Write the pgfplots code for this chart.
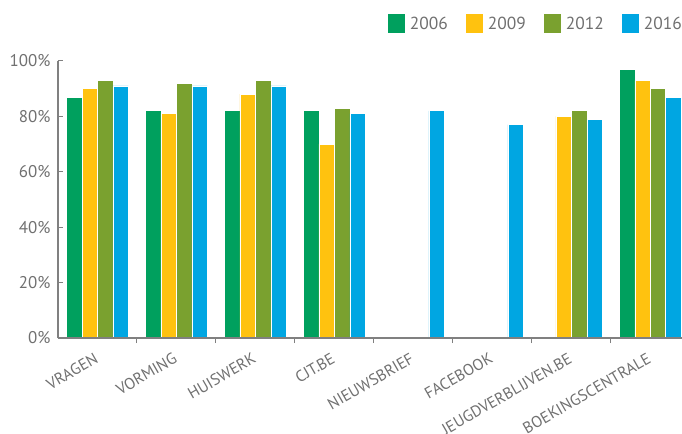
\documentclass[border=0pt]{standalone}
\usepackage{fontspec}
\setmainfont{PT Sans}
\usepackage{pgfplots}
\pgfplotsset{compat=1.18}
\definecolor{cA}{HTML}{00A05E}
\definecolor{cB}{HTML}{FFC20F}
\definecolor{cC}{HTML}{7AA12F}
\definecolor{cD}{HTML}{00A6E2}
\definecolor{txtgray}{HTML}{707070}
\definecolor{axisgray}{HTML}{808080}
\begin{document}
\begin{tikzpicture}
\path[use as bounding box] (-58bp,-96bp) rectangle (624bp,338bp);
\begin{axis}[
  at={(0,0)}, anchor=south west,
  scale only axis, width=624bp, height=277bp,
  xmin=-0.5, xmax=7.4, ymin=0, ymax=100,
  axis x line*=bottom, axis y line*=left,
  axis line style={draw=axisgray, line width=1.2bp, -},
  axis on top,
  tick align=inside,
  ytick={0,20,...,100},
  yticklabel={\pgfmathprintnumber{\tick}\%},
  /pgf/number format/assume math mode=true,
  y tick label style={font=\fontsize{17}{17}\selectfont, text=txtgray, xshift=-4bp},
  ytick style={draw=axisgray, line width=1bp},
  major tick length=5bp,
  minor tick length=5bp,
  xtick={0,...,7},
  minor x tick num=1,
  xticklabels={VRAGEN,VORMING,HUISWERK,CJT.BE,NIEUWSBRIEF,FACEBOOK,JEUGDVERBLIJVEN.BE,BOEKINGSCENTRALE},
  x tick label style={xshift=-4bp, yshift=-9bp, rotate=30, anchor=north east, inner sep=0pt, font=\fontsize{16}{16}\selectfont, text=txtgray},
  major x tick style={draw=none},
  minor x tick style={draw=axisgray, line width=1bp},
  ybar=0pt, bar width=0.196,
  legend columns=4,
  legend style={draw=none, fill=none, inner sep=0pt, at={(1,1.1697)}, xshift=5bp, anchor=north east,
    font=\fontsize{17.5}{17.5}\selectfont, text=txtgray,
    nodes={inner xsep=5bp, inner ysep=1bp},
    /tikz/every even column/.append style={column sep=13bp}},
  legend image code/.code={\fill[#1, draw=none] (0bp,-9.5bp) rectangle (17bp,9.5bp);},
]
\addplot[fill=cA, draw=white, line width=0.8bp] coordinates {(0,87) (1,82) (2,82) (3,82) (7,97)};
\addplot[fill=cB, draw=white, line width=0.8bp] coordinates {(0,90) (1,81) (2,88) (3,70) (6,80) (7,93)};
\addplot[fill=cC, draw=white, line width=0.8bp] coordinates {(0,93) (1,92) (2,93) (3,83) (6,82) (7,90)};
\addplot[fill=cD, draw=white, line width=0.8bp] coordinates {(0,91) (1,91) (2,91) (3,81) (4,82) (5,77) (6,79) (7,87)};
\legend{2006,2009,2012,2016}
\end{axis}
\end{tikzpicture}
\end{document}
